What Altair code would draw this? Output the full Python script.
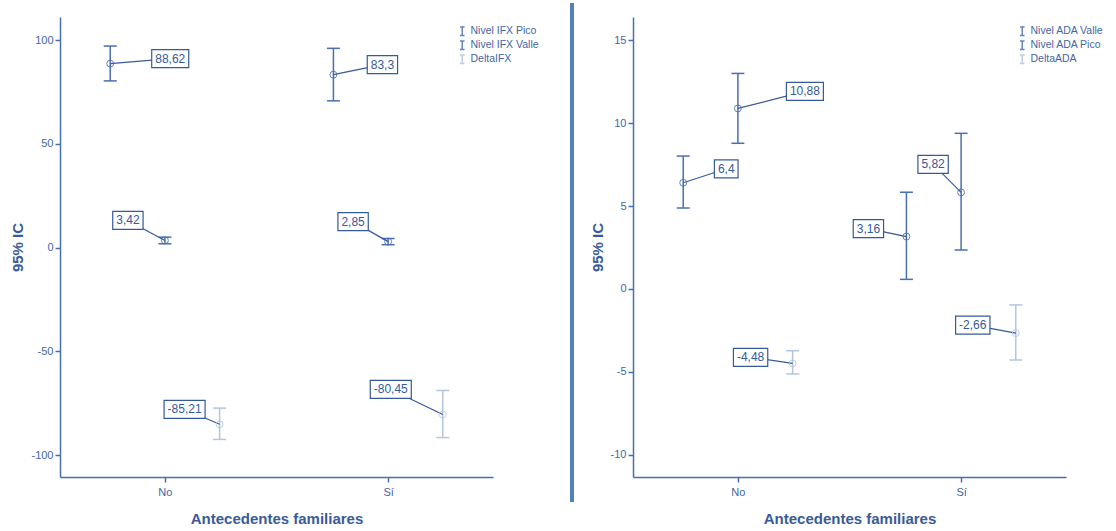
import altair as alt
import pandas as pd

# ---------------- data ----------------
categories = ["No", "Sí"]

ifx_series = ["Nivel IFX Pico", "Nivel IFX Valle", "DeltaIFX"]
ifx_mean = [[88.62, 83.3], [3.42, 2.85], [-85.21, -80.45]]
ifx_lo = [[80.3, 70.7], [1.8, 1.35], [-92.5, -91.6]]
ifx_hi = [[97.1, 96.0], [5.0, 4.35], [-77.4, -68.9]]

ada_series = ["Nivel ADA Valle", "Nivel ADA Pico", "DeltaADA"]
ada_mean = [[6.4, 3.16], [10.88, 5.82], [-4.48, -2.66]]
ada_lo = [[4.88, 0.58], [8.78, 2.35], [-5.12, -4.28]]
ada_hi = [[8.01, 5.83], [12.99, 9.38], [-3.72, -0.96]]

# ---------------- style ----------------
FONT = "Liberation Sans"
AXIS_COL = "#4a6fb0"
DARK = "#4a6fb0"
LIGHT = "#b5c5df"
TXT_COL = "#4565a3"
TITLE_COL = "#3a5b98"
LAB_COL = "#36599a"
SEP_COL = "#4f81bd"
W, H = 433, 460
SERIES_OFF = [-0.245, 0.0, 0.245]

# label box offsets (pixels, box centre relative to the point), per series / category
ifx_label_off = [[(60, -5), (49, -10)], [(-37, -20), (-35, -20)], [(-35, -15), (-52, -25)]]
ada_label_off = [[(43, -14), (-38, -8)], [(67, -17), (-28, -28)], [(-42, -6), (-43, -8)]]

CHAR_W = {",": 3.33, "-": 4.0, ".": 3.33}


def text_w(s):
    return sum(CHAR_W.get(c, 6.67) for c in s)


def build_df(series, mean, lo, hi):
    rows = []
    for si, s in enumerate(series):
        for ci, c in enumerate(categories):
            rows.append({
                "key": f"{si}-{ci}",
                "serie": s,
                "cat": c,
                "x": ci + SERIES_OFF[si],
                "mean": mean[si][ci],
                "lo": lo[si][ci],
                "hi": hi[si][ci],
                "lab": str(mean[si][ci]).replace(".", ","),
            })
    return pd.DataFrame(rows)


label_expr = " : ".join(f"datum.value == {i} ? '{c}'" for i, c in enumerate(categories)) + " : ''"

IPATH = "M-0.55,-1H0.55M0,-1V1M-0.55,1H0.55"


def panel(series, mean, lo, hi, label_off, ydom, yticks, legend_x, separator):
    df = build_df(series, mean, lo, hi)
    xsc = alt.Scale(domain=[-0.47, 1.47], nice=False, zero=False)
    ysc = alt.Scale(domain=ydom, nice=False, zero=False)
    xax = alt.Axis(values=list(range(len(categories))), labelExpr=label_expr,
                   title="Antecedentes familiares")
    yax = alt.Axis(values=yticks, title="95% IC", labelExpr="'' + datum.value")
    color = alt.Color(
        "serie:N",
        scale=alt.Scale(domain=series, range=[DARK, DARK, LIGHT]),
        legend=alt.Legend(
            orient="none", legendX=legend_x, legendY=9, title=None,
            symbolType=IPATH, symbolSize=70, symbolStrokeWidth=1.5,
            symbolFillColor="transparent",
            labelFont=FONT, labelFontSize=10.5, labelColor=TXT_COL,
            rowPadding=-1, labelOffset=3, padding=0,
        ),
    )
    base = alt.Chart(df)
    bars = base.mark_rule(strokeWidth=1.5).encode(
        x=alt.X("x:Q", scale=xsc, axis=xax),
        y=alt.Y("lo:Q", scale=ysc, axis=yax),
        y2="hi:Q",
        color=color,
    )
    cap_lo = base.mark_rule(strokeWidth=1.5, xOffset=-6.5, x2Offset=6.5).encode(
        x="x:Q", x2="x:Q", y="lo:Q", color=color)
    cap_hi = base.mark_rule(strokeWidth=1.5, xOffset=-6.5, x2Offset=6.5).encode(
        x="x:Q", x2="x:Q", y="hi:Q", color=color)
    pts = base.mark_point(shape="circle", filled=False, size=48, strokeWidth=1, opacity=0.85).encode(
        x="x:Q", y="mean:Q", color=color)

    conns, boxes, texts = [], [], []
    for si in range(len(series)):
        for ci in range(len(categories)):
            dx, dy = label_off[si][ci]
            lab = str(mean[si][ci]).replace(".", ",")
            w = text_w(lab) + 7
            sel = base.transform_filter(alt.datum.key == f"{si}-{ci}")
            conns.append(sel.mark_rule(color=LAB_COL, strokeWidth=1.2, x2Offset=dx, y2Offset=dy).encode(
                x="x:Q", y="mean:Q", x2="x:Q", y2="mean:Q"))
            boxes.append(sel.mark_rect(fill="white", stroke=LAB_COL, strokeWidth=1.2,
                                       xOffset=dx - w / 2, x2Offset=dx + w / 2,
                                       yOffset=dy - 9, y2Offset=dy + 9).encode(
                x="x:Q", x2="x:Q", y="mean:Q", y2="mean:Q"))
            texts.append(sel.mark_text(dx=dx, dy=dy, font=FONT, fontSize=12, color=LAB_COL,
                                       align="center", baseline="middle").encode(
                x="x:Q", y="mean:Q", text="lab:N"))

    layers = [bars, cap_lo, cap_hi] + conns + [pts] + boxes + texts
    if separator:
        sep = alt.Chart(pd.DataFrame({"a": [0]})).mark_rule(color=SEP_COL, strokeWidth=4).encode(
            x=alt.value(512), y=alt.value(-14), y2=alt.value(485))
        layers.append(sep)
    return alt.layer(*layers).properties(width=W, height=H)


left = panel(ifx_series, ifx_mean, ifx_lo, ifx_hi, ifx_label_off,
             [-110.6, 111.1], [-100, -50, 0, 50, 100], 397, True)
right = panel(ada_series, ada_mean, ada_lo, ada_hi, ada_label_off,
              [-11.33, 16.39], [-10, -5, 0, 5, 10, 15], 384, False)

chart = alt.hconcat(left, right, spacing=16).resolve_scale(color="independent").properties(
    padding={"left": 10, "top": 1, "right": 0, "bottom": 0}
).configure_view(stroke=None).configure_axis(
    grid=False,
    domainColor=AXIS_COL, domainWidth=1.5,
    tickColor=AXIS_COL, tickWidth=1.5, tickSize=5,
    labelFont=FONT, labelFontSize=11, labelColor=TXT_COL, labelPadding=2,
    titleFont=FONT, titleFontSize=15, titleFontWeight="bold", titleColor=TITLE_COL,
).configure_axisY(titlePadding=5).configure_axisX(titlePadding=14, labelPadding=4)

chart.save("out.html", embed_options={"renderer": "svg", "actions": False})
